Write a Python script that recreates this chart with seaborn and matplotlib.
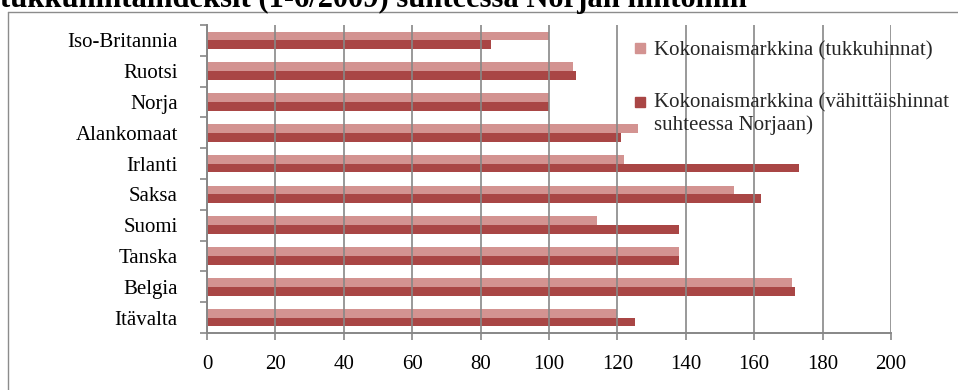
import numpy as np
import pandas as pd
import matplotlib
matplotlib.use("Agg")
import matplotlib.pyplot as plt
from matplotlib.lines import Line2D
import seaborn as sns

countries = ["Iso-Britannia", "Ruotsi", "Norja", "Alankomaat", "Irlanti",
             "Saksa", "Suomi", "Tanska", "Belgia", "Itävalta"]
tukku = [100, 107, 100, 126, 122, 154, 114, 138, 171, 120]
vahittais = [83, 108, 100, 121, 173, 162, 138, 138, 172, 125]
series_names = ["Kokonaismarkkina (tukkuhinnat)",
                "Kokonaismarkkina (vähittäishinnat\nsuhteessa Norjaan)"]
x_ticks = [0, 20, 40, 60, 80, 100, 120, 140, 160, 180, 200]
title = "tukkuhintaindeksit (1-6/2009) suhteessa Norjan hintoihin"
colors = ["#D39391", "#A94645"]

df = pd.DataFrame({
    "maa": countries * 2,
    "arvo": tukku + vahittais,
    "sarja": [series_names[0]] * len(countries) + [series_names[1]] * len(countries),
})

sns.set_theme(style="white")
plt.rcParams["font.family"] = ["Liberation Serif", "DejaVu Serif"]

W, H = 958, 390
fig = plt.figure(figsize=(W / 100, H / 100), dpi=100)
ax = fig.add_axes([207 / W, 1 - 333 / H, (891 - 207) / W, (333 - 25) / H])

sns.barplot(data=df, x="arvo", y="maa", hue="sarja", order=countries,
            hue_order=series_names, palette=colors, saturation=1, orient="h",
            width=0.57, linewidth=0, ax=ax, legend=False)

grid_c = "#878787"
ax.set_xlim(0, 200)
ax.set_ylim(len(countries) - 0.5, -0.5)
ax.set_xticks(x_ticks)
ax.set_xticklabels([str(v) for v in x_ticks])
ax.xaxis.grid(True, color=grid_c, linewidth=1.2)
ax.set_axisbelow(False)
ax.set_xlabel("")
ax.set_ylabel("")

for s in ["top", "right"]:
    ax.spines[s].set_visible(False)
for s in ["left", "bottom"]:
    ax.spines[s].set_color(grid_c)
    ax.spines[s].set_linewidth(1.4)

ax.tick_params(axis="x", which="major", direction="out", length=5, width=1.2,
               color=grid_c, pad=11, labelsize=15, labelcolor="black", bottom=True)
ax.tick_params(axis="y", which="major", length=0, pad=21, labelsize=15,
               labelcolor="black", left=True)
ax.set_yticks(np.arange(-0.5, len(countries), 1.0), minor=True)
ax.tick_params(axis="y", which="minor", direction="out", length=5, width=1.2,
               color=grid_c, left=True)

handles = [Line2D([0], [0], marker="s", linestyle="none", markersize=7,
                  markerfacecolor=c, markeredgecolor=c) for c in colors]
leg = fig.legend(handles, series_names, loc="upper left",
                 bbox_to_anchor=(634 / W, 1 - 41 / H), frameon=False, fontsize=15,
                 handlelength=0.6, handletextpad=0.35, labelspacing=1.55,
                 borderaxespad=0, borderpad=0)
# align the marker of the two-line entry with its first line
h2 = leg.legend_handles[1]
h2.set_ydata(np.asarray(h2.get_ydata(), dtype=float) + 8.5)

# chart border
fig.add_artist(Line2D([8 / W, 8 / W], [0, 1 - 12 / H], transform=fig.transFigure,
                      color="#8C8C8C", linewidth=1.0))
fig.add_artist(Line2D([8 / W, 1], [1 - 12 / H, 1 - 12 / H], transform=fig.transFigure,
                      color="#8C8C8C", linewidth=1.0))

fig.text(0, 1 - 7 / H, title, fontsize=22, fontweight="bold",
         ha="left", va="baseline", color="black")

fig.savefig("out.png", dpi=100, facecolor="white")
